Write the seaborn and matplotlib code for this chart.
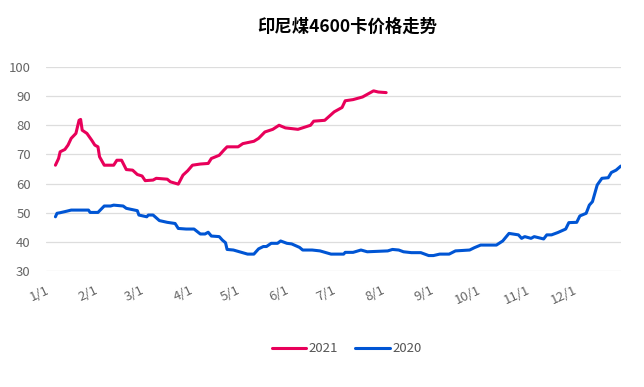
import pandas as pd
import matplotlib
matplotlib.use("Agg")
import matplotlib.pyplot as plt
import seaborn as sns

# day offsets from Jan 1 (plotted on one common calendar year)
days_2021 = [6, 8, 9, 12, 14, 16, 19, 21, 22, 23, 26, 29, 31, 33, 34, 37, 43, 45, 48, 51,
             55, 58, 61, 63, 68, 70, 77, 79, 84, 87, 90, 93, 98, 103, 105, 110, 113, 115,
             122, 125, 132, 135, 139, 144, 148, 152, 160, 168, 170, 177, 183, 188, 190,
             195, 201, 208, 211, 216]
price_2021 = [66.3, 68.6, 70.9, 71.7, 73.2, 75.5, 77.2, 81.7, 82.0, 78.3, 77.2, 74.9, 73.2,
              72.6, 69.2, 66.3, 66.3, 68.0, 68.0, 64.8, 64.6, 63.1, 62.6, 61.0, 61.2, 61.8,
              61.5, 60.6, 59.8, 62.9, 64.4, 66.3, 66.7, 66.9, 68.6, 69.7, 71.5, 72.6, 72.6,
              73.7, 74.5, 75.5, 77.7, 78.6, 80.0, 79.1, 78.6, 80.0, 81.4, 81.7, 84.6, 86.1,
              88.4, 88.8, 89.7, 91.8, 91.4, 91.2]

days_2020 = [6, 7, 9, 13, 16, 27, 28, 33, 37, 41, 43, 49, 51, 58, 59, 64, 65, 68, 72, 77,
             82, 84, 89, 94, 98, 101, 103, 105, 110, 112, 114, 115, 119, 128, 132, 135,
             138, 140, 143, 147, 149, 153, 156, 161, 163, 169, 174, 181, 189, 190, 195,
             200, 204, 217, 220, 224, 227, 232, 238, 243, 246, 250, 256, 260, 269, 272,
             276, 286, 290, 294, 300, 302, 304, 308, 310, 316, 318, 321, 325, 330, 332,
             337, 339, 343, 345, 347, 350, 353, 357, 359, 362, 365]
price_2020 = [48.6, 49.8, 50.0, 50.5, 50.9, 50.9, 50.1, 50.1, 52.3, 52.3, 52.6, 52.3, 51.5,
              50.7, 49.2, 48.6, 49.2, 49.2, 47.3, 46.7, 46.3, 44.6, 44.4, 44.4, 42.7, 42.7,
              43.3, 42.0, 41.8, 40.6, 39.7, 37.4, 37.2, 35.8, 35.8, 37.6, 38.4, 38.4, 39.5,
              39.5, 40.3, 39.5, 39.3, 38.1, 37.2, 37.2, 36.9, 35.8, 35.8, 36.4, 36.4, 37.2,
              36.6, 36.9, 37.4, 37.2, 36.6, 36.3, 36.3, 35.3, 35.3, 35.8, 35.8, 36.9, 37.2,
              38.0, 38.9, 38.9, 40.3, 42.9, 42.4, 41.2, 41.8, 41.2, 41.8, 41.0, 42.4, 42.4,
              43.2, 44.4, 46.6, 46.7, 48.9, 49.8, 52.6, 53.8, 59.5, 61.8, 62.0, 63.8, 64.6,
              66.0]

month_labels = ["1/1", "2/1", "3/1", "4/1", "5/1", "6/1", "7/1", "8/1", "9/1", "10/1", "11/1", "12/1"]
title = "印尼煤4600卡价格走势"
colors = {"2021": "#e8005a", "2020": "#0055d4"}

base = pd.Timestamp("2020-01-01")
df = pd.concat([
    pd.DataFrame({"date": base + pd.to_timedelta(days_2021, "D"), "price": price_2021, "year": "2021"}),
    pd.DataFrame({"date": base + pd.to_timedelta(days_2020, "D"), "price": price_2020, "year": "2020"}),
])

sns.set_style("white")
plt.rcParams["font.family"] = ["Noto Sans CJK SC", "DejaVu Sans"]

fig = plt.figure(figsize=(6.44, 3.87), dpi=100)
ax = fig.add_axes([0.0714, 0.2997, 0.8926, 0.5273])

sns.lineplot(data=df, x="date", y="price", hue="year", palette=colors,
             hue_order=["2021", "2020"], linewidth=2.2, ax=ax)

ax.set_ylim(30, 100)
ax.set_yticks(range(30, 101, 10))
ax.set_xlim(base, pd.Timestamp("2020-12-31"))
month_starts = pd.date_range("2020-01-01", periods=12, freq="MS")
ax.set_xticks(month_starts)
ax.set_xticklabels(month_labels, rotation=25, ha="right", rotation_mode="anchor")
ax.tick_params(axis="both", length=0, labelsize=9.5, labelcolor="#666666")
ax.tick_params(axis="x", pad=9)
ax.tick_params(axis="y", pad=11)
ax.grid(axis="y", color="#dddddd", linewidth=0.9)
for s in ax.spines.values():
    s.set_visible(False)
ax.set_xlabel("")
ax.set_ylabel("")

fig.text(0.54, 0.93, title, ha="center", va="center", fontsize=12.5,
         fontweight="bold", color="black")

leg = ax.legend(loc="center", bbox_to_anchor=(0.523, -0.382), ncol=2, frameon=False,
                fontsize=9.5, handlelength=2.6, handletextpad=0.2, columnspacing=1.3)
for t in leg.get_texts():
    t.set_color("#555555")

fig.savefig("out.png", dpi=100)
